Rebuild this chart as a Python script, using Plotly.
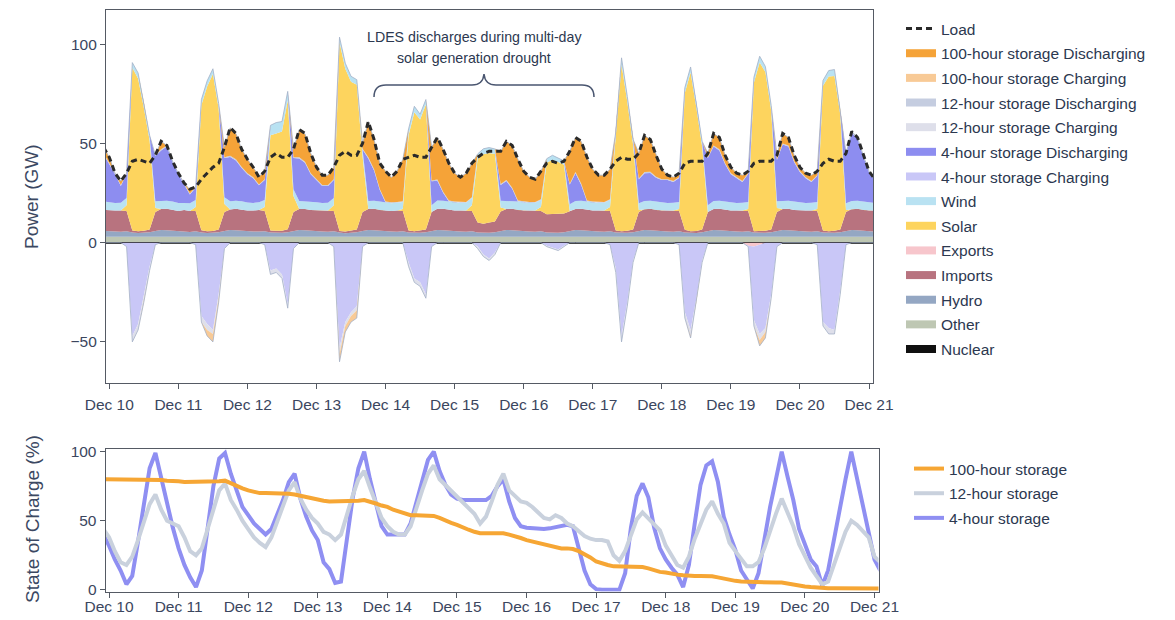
import pandas
import plotly.graph_objects as go

# ---------------------------------------------------------------
# values, every 2 hours from Dec 9 22:00
# one row per day: 00, 02, 04, ... 22 h

START = "2023-12-09 22:00"

load = [
    48,
    43, 35, 31, 35, 41, 42, 41, 40, 44, 51, 49, 41,  # Dec 10
    35, 30, 27, 28, 32, 35, 38, 40, 48, 58, 55, 47,  # Dec 11
    42, 38, 33, 36, 43, 45, 43, 43, 47, 57, 55, 45,  # Dec 12
    38, 34, 34, 38, 44, 46, 44, 44, 50, 61, 52, 40,  # Dec 13
    36, 33, 36, 42, 43, 44, 43, 43, 48, 53, 47, 40,  # Dec 14
    35, 33, 35, 40, 43, 45, 46, 46, 46, 51, 49, 42,  # Dec 15
    36, 33, 32, 36, 40, 41, 40, 41, 46, 53, 51, 43,  # Dec 16
    37, 34, 34, 37, 41, 43, 42, 42, 45, 54, 52, 44,  # Dec 17
    37, 34, 33, 35, 40, 41, 41, 41, 45, 55, 53, 44,  # Dec 18
    38, 35, 34, 36, 40, 41, 41, 41, 44, 55, 53, 44,  # Dec 19
    38, 35, 34, 36, 40, 42, 41, 41, 45, 56, 53, 44,  # Dec 20
    36, 32,
]

nuclear = [
    0.3,
    0.3, 0.3, 0.3, 0.3, 0.3, 0.3, 0.3, 0.3, 0.3, 0.3, 0.3, 0.3,
    0.3, 0.3, 0.3, 0.3, 0.3, 0.3, 0.3, 0.3, 0.3, 0.3, 0.3, 0.3,
    0.3, 0.3, 0.3, 0.3, 0.3, 0.3, 0.3, 0.3, 0.3, 0.3, 0.3, 0.3,
    0.3, 0.3, 0.3, 0.3, 0.3, 0.3, 0.3, 0.3, 0.3, 0.3, 0.3, 0.3,
    0.3, 0.3, 0.3, 0.3, 0.3, 0.3, 0.3, 0.3, 0.3, 0.3, 0.3, 0.3,
    0.3, 0.3, 0.3, 0.3, 0.3, 0.3, 0.3, 0.3, 0.3, 0.3, 0.3, 0.3,
    0.3, 0.3, 0.3, 0.3, 0.3, 0.3, 0.3, 0.3, 0.3, 0.3, 0.3, 0.3,
    0.3, 0.3, 0.3, 0.3, 0.3, 0.3, 0.3, 0.3, 0.3, 0.3, 0.3, 0.3,
    0.3, 0.3, 0.3, 0.3, 0.3, 0.3, 0.3, 0.3, 0.3, 0.3, 0.3, 0.3,
    0.3, 0.3, 0.3, 0.3, 0.3, 0.3, 0.3, 0.3, 0.3, 0.3, 0.3, 0.3,
    0.3, 0.3, 0.3, 0.3, 0.3, 0.3, 0.3, 0.3, 0.3, 0.3, 0.3, 0.3,
    0.3, 0.3,
]

other = [
    2.7,
    2.7, 2.7, 2.7, 2.7, 2.6, 2.6, 2.6, 2.6, 2.7, 2.8, 2.8, 2.7,
    2.7, 2.7, 2.6, 2.7, 2.6, 2.6, 2.6, 2.6, 2.7, 2.8, 2.8, 2.7,
    2.7, 2.7, 2.7, 2.7, 2.6, 2.6, 2.6, 2.6, 2.7, 2.8, 2.8, 2.7,
    2.7, 2.7, 2.7, 2.7, 2.6, 2.5, 2.6, 2.6, 2.7, 2.8, 2.8, 2.7,
    2.7, 2.7, 2.7, 2.7, 2.6, 2.6, 2.6, 2.6, 2.7, 2.8, 2.8, 2.7,
    2.7, 2.7, 2.7, 2.7, 2.6, 2.6, 2.6, 2.6, 2.7, 2.8, 2.8, 2.7,
    2.7, 2.7, 2.7, 2.7, 2.6, 2.6, 2.6, 2.6, 2.7, 2.8, 2.8, 2.7,
    2.7, 2.7, 2.7, 2.7, 2.6, 2.6, 2.6, 2.6, 2.7, 2.8, 2.8, 2.7,
    2.7, 2.7, 2.7, 2.7, 2.6, 2.6, 2.5, 2.6, 2.7, 2.8, 2.8, 2.7,
    2.7, 2.7, 2.7, 2.7, 2.6, 2.6, 2.6, 2.6, 2.7, 2.8, 2.8, 2.7,
    2.7, 2.7, 2.7, 2.7, 2.6, 2.6, 2.6, 2.6, 2.7, 2.8, 2.8, 2.7,
    2.7, 2.7,
]

hydro = [
    3.0,
    2.8, 2.6, 2.5, 2.7, 2.2, 2.0, 2.1, 2.3, 2.9, 3.3, 3.2, 3.0,
    2.8, 2.6, 2.5, 2.7, 2.2, 2.0, 2.1, 2.3, 2.9, 3.3, 3.2, 3.0,
    2.8, 2.6, 2.6, 2.7, 2.2, 2.1, 2.1, 2.3, 2.9, 3.3, 3.2, 3.0,
    2.8, 2.6, 2.5, 2.7, 2.2, 2.0, 2.1, 2.3, 2.9, 3.3, 3.2, 3.0,
    2.8, 2.6, 2.5, 2.7, 2.2, 2.0, 2.1, 2.3, 2.9, 3.3, 3.2, 3.0,
    2.8, 2.6, 2.5, 2.7, 2.2, 2.0, 2.1, 2.3, 2.9, 3.3, 3.2, 3.0,
    2.8, 2.6, 2.5, 2.7, 2.2, 2.0, 2.1, 2.3, 2.9, 3.3, 3.2, 3.0,
    2.8, 2.6, 2.5, 2.7, 2.2, 2.0, 2.1, 2.3, 2.9, 3.3, 3.2, 3.0,
    2.8, 2.6, 2.5, 2.7, 2.2, 2.0, 2.1, 2.3, 2.9, 3.3, 3.2, 3.0,
    2.8, 2.6, 2.5, 2.7, 2.2, 2.0, 2.1, 2.3, 2.9, 3.3, 3.2, 3.0,
    2.8, 2.6, 2.5, 2.7, 2.2, 2.0, 2.1, 2.3, 2.9, 3.3, 3.2, 3.0,
    2.8, 2.6,
]

imports = [
    10.5,
    10.4, 10.6, 10.7, 10.2, 1.0, 0.8, 1.0, 1.4, 9.6, 10.5, 10.8, 10.5,
    10.2, 10.8, 10.5, 10.2, 1.2, 0.8, 0.9, 1.4, 9.6, 10.3, 10.8, 10.6,
    10.4, 10.6, 10.9, 10.2, 1.0, 1.0, 1.0, 1.5, 9.6, 10.5, 10.6, 10.5,
    10.6, 10.6, 10.7, 10.2, 0.8, 0.8, 1.1, 1.4, 9.6, 10.5, 10.8, 10.5,
    10.4, 10.4, 10.7, 10.2, 1.0, 0.8, 1.0, 1.4, 9.6, 10.7, 10.8, 10.5,
    10.4, 10.6, 10.7, 10.2, 5.0, 4.6, 5.2, 5.5, 9.8, 10.5, 10.8, 10.5,
    10.4, 10.6, 10.7, 10.2, 9.2, 9.4, 9.6, 9.5, 10.0, 10.5, 10.8, 10.5,
    10.4, 10.6, 10.7, 10.2, 1.0, 0.8, 1.0, 1.4, 9.6, 10.5, 10.8, 10.5,
    10.4, 10.6, 10.7, 10.2, 1.4, 0.8, 1.0, 1.4, 9.6, 10.5, 10.8, 10.5,
    10.4, 10.6, 10.7, 10.2, 0.6, 0.8, 1.0, 1.4, 9.6, 10.5, 10.8, 10.5,
    10.4, 10.6, 10.7, 10.2, 1.0, 0.8, 1.0, 1.4, 9.6, 10.5, 10.8, 10.5,
    10.4, 10.6,
]

exports = [
    0,
    0, 0, 0, 0, 0, 0, 0, 0, 0, 0, 0, 0,
    0, 0, 0, 0, 0, 0, 0, 0, 0, 0, 0, 0,
    0, 0, 0, 0, 0, 0, 0, 0, 0, 0, 0, 0,
    0, 0, 0, 0, 0, 0, 0, 0, 0, 0, 0, 0,
    0, 0, 0, 0, 0, 0, 0, 0, 0, 0, 0, 0,
    0, 0, 0, 0, 0, 0, 0, 0, 0, 0, 0, 0,
    0, 0, 0, 0, 0, 0, 0, 0, 0, 0, 0, 0,
    0, 0, 0, 0, 0, 0, 0, 0, 0, 0, 0, 0,
    0, 0, 0, 0, 0, 0, 0, 0, 0, 0, 0, 0,
    0, 0, 0, -1.5, -2, -1, 0, 0, 0, 0, 0, 0,
    0, 0, 0, 0, 0, 0, 0, 0, 0, 0, 0, 0,
    0, 0,
]

solar = [
    0,
    0, 0, 0, 3, 82, 77, 62, 45, 2, 0, 0, 0,
    0, 0, 0, 2, 63, 73, 79, 61, 4, 0, 0, 0,
    0, 0, 0, 2, 48, 49, 50, 65, 8, 0, 0, 0,
    0, 0, 0, 3, 95, 82, 75, 73, 28, 0, 0, 0,
    0, 0, 0, 1, 48, 60, 56, 63, 0, 0, 0, 0,
    0, 0, 0, 3, 32, 35, 35, 34, 2, 0, 0, 0,
    0, 0, 0, 2, 26, 27.5, 26, 24.5, 0, 0, 0, 0,
    0, 0, 0, 2, 47, 84, 65, 43, 1, 0, 0, 0,
    0, 0, 0, 1, 69, 80, 62, 42, 0, 0, 0, 0,
    0, 0, 0, 1, 75, 85, 80, 60, 2, 0, 0, 0,
    0, 0, 0, 1, 73, 78, 78, 58, 1, 0, 0, 0,
    0, 0,
]

wind = [
    4.2,
    4.0, 3.8, 3.9, 3.6, 2.6, 2.8, 2.7, 2.5, 3.4, 4.1, 4.0, 4.2,
    4.0, 3.6, 3.9, 3.6, 2.8, 2.8, 2.7, 2.5, 3.4, 4.1, 4.0, 4.2,
    4.0, 3.8, 3.9, 3.6, 5.0, 5.5, 5.0, 4.5, 3.4, 4.1, 4.0, 4.2,
    4.0, 3.8, 3.9, 3.6, 2.6, 2.8, 2.7, 2.5, 3.4, 4.1, 4.0, 4.2,
    4.0, 3.8, 3.9, 3.6, 3.2, 3.0, 2.7, 2.5, 3.4, 4.1, 4.0, 4.2,
    4.0, 3.8, 3.9, 3.6, 2.6, 2.8, 2.7, 2.5, 3.4, 4.1, 4.0, 4.2,
    4.0, 3.8, 3.9, 3.6, 2.0, 2.2, 2.1, 2.0, 3.4, 4.1, 4.0, 4.2,
    4.0, 3.8, 3.9, 3.6, 2.6, 3.4, 2.7, 2.5, 3.4, 4.1, 4.0, 4.2,
    4.0, 3.8, 3.9, 3.6, 2.6, 2.8, 2.7, 2.5, 3.4, 4.1, 4.0, 4.2,
    4.0, 3.8, 3.9, 3.6, 2.6, 3.2, 2.7, 2.5, 3.4, 4.1, 4.0, 4.2,
    4.0, 3.8, 3.9, 3.6, 2.6, 3.0, 3.2, 2.5, 3.4, 4.1, 4.0, 4.2,
    4.0, 3.8,
]

dis_4h = [
    23.8,
    19.3, 14.5, 8.5, 12.1, 0, 0, 0, 0, 22.7, 25.4, 27.3, 19.8,
    14.3, 9.5, 4.5, 6.1, 0, 0, 0, 0, 19.7, 22.4, 20.3, 16.8,
    14.3, 12.5, 8.5, 10.1, 0, 0, 0, 0, 15.7, 21.4, 19.3, 13.8,
    11.3, 8.5, 8.5, 9.1, 0, 0, 0, 0, 0, 21.4, 15.3, 5.8,
    0, 0, 0, 0, 0, 0, 0, 0, 12.0, 10.0, 4.0, 0,
    0, 0, 0, 0, 0, 0, 0, 0, 8.0, 10.0, 6.0, 0,
    0, 0, 0, 0, 0, 0, 0, 0, 10.0, 14.0, 8.0, 0,
    0, 0, 0, 0, 0, 0, 0, 0, 12.0, 14.0, 14.0, 12.0,
    11.3, 11.5, 10.5, 12.1, 0, 0, 0, 0, 23.7, 27.4, 25.3, 18.8,
    14.3, 12.5, 10.5, 14.1, 0, 0, 0, 0, 20.7, 28.4, 27.3, 19.8,
    15.3, 12.5, 10.5, 13.1, 0, 0, 0, 0, 24.7, 34.4, 31.3, 22.8,
    15.3, 11.5,
]

ch_4h = [
    0,
    0, 0, 0, -2, -47, -41, -27, -12, -1, 0, 0, 0,
    0, 0, 0, -1, -37, -41, -44, -26, -3, 0, 0, 0,
    0, 0, 0, -1, -14, -13, -16, -31, -3, 0, 0, 0,
    0, 0, 0, -2, -53, -40, -35, -32, -2, 0, 0, 0,
    0, 0, 0, 0, -10, -18, -20, -26, -2, 0, 0, 0,
    0, 0, 0, 0, -2, -6, -8, -5, 0, 0, 0, 0,
    0, 0, 0, 0, -1.5, -2.5, -3.5, -1.5, 0, 0, 0, 0,
    0, 0, 0, -1, -13, -47, -30, -9, 0, 0, 0, 0,
    0, 0, 0, -1, -35, -44, -28, -9, 0, 0, 0, 0,
    0, 0, 0, -0.5, -37, -45, -43, -26, -2, 0, 0, 0,
    0, 0, 0, -1, -40, -43, -44, -24, -1, 0, 0, 0,
    0, 0,
]

dis_12h = [
    0.5,
    0.5, 0.5, 0.4, 0.4, 0, 0, 0, 0, 0.4, 0.6, 0.6, 0.5,
    0.5, 0.5, 0.4, 0.4, 0, 0, 0, 0, 0.4, 0.6, 0.6, 0.5,
    0.5, 0.5, 0.4, 0.4, 0, 0, 0, 0, 0.4, 0.6, 0.6, 0.5,
    0.5, 0.5, 0.4, 0.4, 0, 0, 0, 0, 0.4, 0.6, 0.6, 0.5,
    0.5, 0.5, 0.4, 0.4, 0, 0, 0, 0, 0.4, 0.6, 0.6, 0.5,
    0.5, 0.5, 0.4, 0.4, 0, 0, 0, 0, 0.4, 0.6, 0.6, 0.5,
    0.5, 0.5, 0.4, 0.4, 0, 0, 0, 0, 0.4, 0.6, 0.6, 0.5,
    0.5, 0.5, 0.4, 0.4, 0, 0, 0, 0, 0.4, 0.6, 0.6, 0.5,
    0.5, 0.5, 0.4, 0.4, 0, 0, 0, 0, 0.4, 0.6, 0.6, 0.5,
    0.5, 0.5, 0.4, 0.4, 0, 0, 0, 0, 0.4, 0.6, 0.6, 0.5,
    0.5, 0.5, 0.4, 0.4, 0, 0, 0, 0, 0.4, 0.6, 0.6, 0.5,
    0.5, 0.5,
]

ch_12h = [
    0,
    0, 0, 0, 0, -3, -3, -2, -2, 0, 0, 0, 0,
    0, 0, 0, 0, -3, -3, -2, -2, 0, 0, 0, 0,
    0, 0, 0, 0, -2, -2, -2, -2, 0, 0, 0, 0,
    0, 0, 0, 0, -3, -2, -2, -2, 0, 0, 0, 0,
    0, 0, 0, 0, -2, -2, -2, -2, 0, 0, 0, 0,
    0, 0, 0, 0, -1, -1, -1, -1, 0, 0, 0, 0,
    0, 0, 0, 0, -0.5, -0.5, -0.5, -0.5, 0, 0, 0, 0,
    0, 0, 0, 0, -2, -3, -2, -1, 0, 0, 0, 0,
    0, 0, 0, 0, -3, -3, -2, -1, 0, 0, 0, 0,
    0, 0, 0, 0, -3, -3, -2, -2, 0, 0, 0, 0,
    0, 0, 0, 0, -2, -3, -2, -2, 0, 0, 0, 0,
    0, 0,
]

dis_100h = [
    3.0,
    3.0, 0, 2.0, 0, 0, 0, 0, 0, 0, 4.0, 0, 0,
    0, 0, 2.0, 0, 0, 0, 0, 0, 5.0, 14.0, 13.0, 9.0,
    7.0, 5.0, 4.0, 4.0, 0, 0, 0, 0, 4.0, 14.0, 14.0, 10.0,
    6.0, 5.0, 5.0, 6.0, 0, 0, 0, 0, 2.7, 18.0, 15.0, 13.0,
    15.3, 12.5, 15.5, 21.1, 0, 0, 0, 0, 16.7, 21.4, 21.3, 18.8,
    14.3, 12.5, 14.5, 17.1, 0, 0, 0, 0, 16.5, 19.4, 21.3, 20.8,
    15.3, 12.5, 11.5, 14.1, 0, 0, 0, 0, 16.3, 17.4, 21.3, 21.8,
    16.3, 13.5, 13.5, 15.1, 0, 0, 0, 0, 12.7, 18.4, 16.3, 10.8,
    5.0, 2.0, 2.0, 2.0, 0, 0, 0, 0, 2.0, 6.0, 6.0, 4.0,
    3.0, 2.0, 3.0, 1.0, 0, 0, 0, 0, 2.0, 5.0, 4.0, 3.0,
    2.0, 2.0, 3.0, 2.0, 0, 0, 0, 0, 0, 0, 0, 0,
    0, 0,
]

ch_100h = [
    0,
    0, 0, 0, 0, 0, 0, -1, 0, 0, 0, 0, 0,
    0, 0, 0, 0, 0, -3, -4, -2, 0, 0, 0, 0,
    0, 0, 0, 0, 0, 0, 0, 0, 0, 0, 0, 0,
    0, 0, 0, 0, -4, -3, -3, -4, 0, 0, 0, 0,
    0, 0, 0, 0, 0, 0, 0, 0, 0, 0, 0, 0,
    0, 0, 0, 0, 0, 0, 0, 0, 0, 0, 0, 0,
    0, 0, 0, 0, 0, 0, 0, 0, 0, 0, 0, 0,
    0, 0, 0, 0, 0, 0, 0, 0, 0, 0, 0, 0,
    0, 0, 0, 0, 0, -1, 0, 0, 0, 0, 0, 0,
    0, 0, 0, 0, 0, -3, -3, 0, 0, 0, 0, 0,
    0, 0, 0, 0, 0, 0, 0, 0, 0, 0, 0, 0,
    0, 0,
]

# state of charge (%)

soc_100h = [
    80,
    80, 80, 80, 80, 80, 80, 80, 80, 80, 79.5, 79, 79,
    78.5, 78, 78, 78, 78, 78, 78, 78.5, 79, 77, 75, 73.5,
    72, 71, 70, 70, 70, 70, 69.5, 69.5, 69, 68, 67, 66,
    65, 64.5, 64, 64, 64, 64, 64.5, 64.5, 65, 64, 62.5, 61,
    60, 58, 56.5, 55, 54, 54, 54, 53.5, 53.5, 52, 50, 48.5,
    47, 45, 43.5, 42, 41, 41, 41, 41, 41, 40, 39, 37.5,
    36, 35, 34, 33, 32, 31, 30, 30, 29.5, 28, 26, 23.5,
    20.5, 19, 18, 17, 17, 16.5, 16.5, 16.5, 16.5, 15.5, 14, 13,
    12.5, 11.5, 11, 10.5, 10, 10, 10, 10, 9.8, 9, 8, 7,
    6.5, 6, 5.8, 5.5, 5.5, 5.5, 5.3, 5.3, 5.3, 4.5, 3.5, 3,
    2.4, 2, 1.6, 1.3, 1.2, 1.2, 1.2, 1.2, 1.2, 1.1, 1, 1,
    1, 1,
]

soc_12h = [
    44,
    38, 28, 20, 18, 24, 36, 50, 62, 69, 58, 50, 48,
    46, 38, 28, 25, 30, 44, 58, 72, 77, 65, 58, 50,
    44, 38, 34, 31, 38, 50, 62, 72, 78, 66, 58, 52,
    48, 42, 40, 36, 40, 55, 68, 80, 86, 74, 62, 52,
    46, 42, 40, 40, 46, 60, 72, 84, 90, 80, 76, 72,
    68, 64, 60, 55, 48, 53, 64, 76, 84, 72, 68, 64,
    63, 60, 56, 52, 51, 54, 52, 48, 46, 42, 39, 37,
    36, 36, 35, 25, 21, 28, 40, 51, 56, 52, 48, 43,
    32, 25, 18, 16, 24, 37, 48, 58, 64, 55, 48, 34,
    28, 22, 17, 17, 20, 30, 43, 55, 66, 56, 46, 33,
    24, 16, 10, 4, 6, 19, 30, 42, 50, 47, 43, 38,
    24, 20,
]

soc_4h = [
    40,
    32, 22, 14, 4, 10, 35, 63, 88, 99, 80, 62, 45,
    30, 18, 9, 2, 14, 45, 75, 95, 99, 84, 72, 60,
    54, 48, 44, 40, 44, 54, 65, 78, 84, 66, 53, 43,
    36, 20, 15, 5, 6, 36, 66, 88, 100, 80, 64, 46,
    40, 40, 40, 40, 48, 64, 80, 94, 100, 86, 76, 69,
    66, 65, 65, 65, 65, 65, 68, 75, 80, 64, 52, 46,
    45, 44.6, 44.3, 44, 44.5, 45.5, 46.5, 47, 46, 29, 14, 4,
    0.5, 0, 0, 0, 0, 12, 45, 68, 77, 67, 45, 30,
    22, 16, 11, 2, 18, 48, 76, 90, 93, 78, 53, 40,
    29, 14, 8, 1, 12, 37, 60, 80, 100, 82, 65, 44,
    32, 22, 17, 3, 14, 37, 60, 80, 100, 80, 60, 40,
    22, 14,
]

# ---------------------------------------------------------------

WIDTH, HEIGHT = 1175, 620
PAGE_MARGIN = 8  # default body margin of the html page
FONT = "Liberation Sans, Arial, sans-serif"
TEXT = "#2c3850"
TICK = "#3b465e"
AXIS = "#555a64"
X_RANGE = ["2023-12-09 22:51", "2023-12-21 01:23"]


def px(x, y):
    # screen pixels -> paper coordinates (figure margins are zero)
    return (x - PAGE_MARGIN) / WIDTH, 1 - (y - PAGE_MARGIN) / HEIGHT


times = pandas.date_range(START, periods=len(load), freq="2h")

# stacking order, bottom to top
AREAS = [
    ("Nuclear", nuclear, "#101010", "pos"),
    ("Other", other, "#bec7b3", "pos"),
    ("Hydro", hydro, "#94a7c3", "pos"),
    ("Imports", imports, "#b8737f", "pos"),
    ("Exports", exports, "#f7c6cc", "neg"),
    ("Solar", solar, "#fdd45e", "pos"),
    ("Wind", wind, "#b9e2f2", "pos"),
    ("4-hour storage Charging", ch_4h, "#c9c7f7", "neg"),
    ("4-hour storage Discharging", dis_4h, "#8d8df0", "pos"),
    ("12-hour storage Charging", ch_12h, "#dedfea", "neg"),
    ("12-hour storage Discharging", dis_12h, "#c5cde0", "pos"),
    ("100-hour storage Charging", ch_100h, "#f8ca96", "neg"),
    ("100-hour storage Discharging", dis_100h, "#f5a338", "pos"),
]

SOC = [
    ("4-hour storage", soc_4h, "#8f8ff2"),
    ("12-hour storage", soc_12h, "#c9d1dd"),
    ("100-hour storage", soc_100h, "#f6a634"),
]

for _, vals, _, _ in AREAS:
    assert len(vals) == len(load)
for _, vals, _ in SOC:
    assert len(vals) == len(load)

fig = go.Figure()

for name, vals, color, group in AREAS:
    edge = name.startswith("100-hour")
    fig.add_trace(go.Scatter(
        x=times, y=vals, name=name,
        stackgroup=group, mode="lines",
        line=dict(width=0.8 if edge else 0, color="#a3b0c6" if edge else color),
        fillcolor=color, showlegend=False,
        xaxis="x", yaxis="y",
    ))

fig.add_trace(go.Scatter(
    x=times, y=load, name="Load", mode="lines",
    line=dict(color="#2a2a2a", width=3, dash="6px,4px"),
    legend="legend", legendrank=1, legendgroup="load",
    xaxis="x", yaxis="y",
))

# legend swatches for the areas (bars like the original)
for rank, (name, _, color, _) in enumerate(reversed(AREAS)):
    fig.add_trace(go.Scatter(
        x=[None], y=[None], name=name, mode="lines",
        line=dict(color=color, width=8),
        legend="legend", legendrank=rank + 2, legendgroup=name,
        xaxis="x", yaxis="y",
    ))

for rank, (name, vals, color) in enumerate(SOC):
    fig.add_trace(go.Scatter(
        x=times, y=vals, name=name, mode="lines",
        line=dict(color=color, width=4),
        legend="legend2", legendrank=10 - rank, legendgroup="soc " + name,
        xaxis="x2", yaxis="y2",
    ))

# ---------------------------------------------------------------

axis_common = dict(
    showline=True, linecolor=AXIS, linewidth=1.2, mirror=True,
    ticks="outside", ticklen=5, tickcolor=AXIS, automargin=False,
    showgrid=False, tickfont=dict(size=15.5, color=TICK),
)

x_common = dict(
    axis_common, type="date", range=X_RANGE,
    tick0="2023-12-10", dtick=86400000, tickformat="%b %d",
)

x0, y0 = px(106, 383)
x1, y1 = px(873, 10)
bx0, by0 = px(105.7, 591.5)
bx1, by1 = px(878.5, 449.3)

lx, ly = px(901, 12)
l2x, l2y = px(909, 452)

brace = [
    ("M", 374, 97), ("Q", 374, 85, 386, 85), ("L", 472, 85),
    ("Q", 483, 85, 484, 74), ("Q", 485, 85, 496, 85),
    ("L", 582, 85), ("Q", 594, 85, 594, 97),
]
path = ""
for seg in brace:
    coords = seg[1:]
    pts = [px(coords[i], coords[i + 1]) for i in range(0, len(coords), 2)]
    path += seg[0] + " ".join("%.5f,%.5f" % p for p in pts) + " "


def note(text, x, y, size, color=TEXT, angle=0):
    ax, ay = px(x, y)
    return dict(
        text=text, x=ax, y=ay, xref="paper", yref="paper", textangle=angle,
        showarrow=False, xanchor="center", yanchor="middle",
        font=dict(size=size, color=color),
    )


fig.update_layout(
    width=WIDTH, height=HEIGHT,
    margin=dict(l=0, r=0, t=0, b=0, autoexpand=False),
    paper_bgcolor="white", plot_bgcolor="white",
    font=dict(family=FONT, size=15.5, color=TEXT),
    showlegend=True,
    xaxis=dict(x_common, domain=[x0, x1], anchor="y", ticklabelstandoff=2),
    yaxis=dict(
        axis_common, domain=[y0, y1], anchor="x", range=[-70.7, 117.2],
        tickvals=[-50, 0, 50, 100], zeroline=True,
        zerolinecolor="#3a3a3a", zerolinewidth=1.5,
    ),
    xaxis2=dict(x_common, domain=[bx0, bx1], anchor="y2", ticklabelstandoff=-4),
    yaxis2=dict(
        axis_common, domain=[by0, by1], anchor="x2", range=[-1.2, 101.7],
        tickvals=[0, 50, 100], zeroline=False,
    ),
    legend=dict(
        x=lx, y=ly, xanchor="left", yanchor="top",
        bgcolor="rgba(0,0,0,0)", font=dict(size=15.5, color=TEXT),
        traceorder="grouped", tracegroupgap=1.5, itemwidth=30,
    ),
    legend2=dict(
        x=l2x, y=l2y, xanchor="left", yanchor="top",
        bgcolor="rgba(0,0,0,0)", font=dict(size=15.5, color=TEXT),
        traceorder="grouped", tracegroupgap=1.5, itemwidth=30,
    ),
    shapes=[dict(
        type="path", xref="paper", yref="paper", path=path.strip(),
        line=dict(color="#4a5670", width=1.5),
    )],
    annotations=[
        note("LDES discharges during multi-day", 474, 37, 14.2),
        note("solar generation drought", 474, 58, 14.2),
        note("Power (GW)", 32, 197, 19, "#3b4862", -90),
        note("State of Charge (%)", 32, 519, 19, "#3b4862", -90),
    ],
)

fig.write_html("out.html")
